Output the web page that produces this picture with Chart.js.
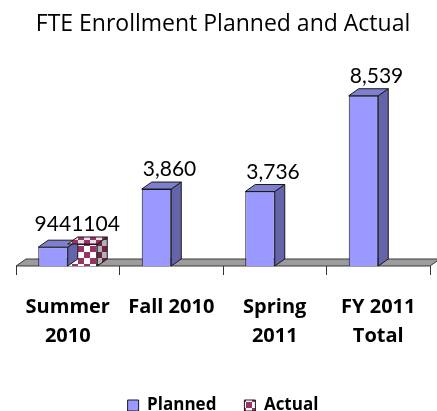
<!DOCTYPE html>
<html>
<head>
<meta charset="utf-8">
<script src="https://cdn.jsdelivr.net/npm/chart.js@4"></script>
<style>
  html, body { margin: 0; padding: 0; background: #fff; }
  #wrap { width: 437px; height: 411px; }
</style>
</head>
<body>
<div id="wrap"><canvas id="chartFte" width="437" height="411"></canvas></div>
<script>
// Données
const categories = [['Summer', '2010'], 'Fall 2010', ['Spring', '2011'], ['FY 2011', 'Total']];
const plannedValues = [944, 3860, 3736, 8539];
const actualValues = [1104, null, null, null];
const plannedLabels = ['944', '3,860', '3,736', '8,539'];
const actualLabels = ['1104', null, null, null];

const FONT = '"Open Sans", sans-serif';
const LABEL_FONT = 'Lato, "Open Sans", sans-serif';
const DX = 10, DY = 7; // profondeur 3D

const canvas = document.getElementById('chartFte');
const ctx = canvas.getContext('2d');

// motif damier pour "Actual"
function damier(c1, c2, size) {
    const p = document.createElement('canvas');
    p.width = p.height = size * 2;
    const g = p.getContext('2d');
    g.fillStyle = c2;
    g.fillRect(0, 0, size * 2, size * 2);
    g.fillStyle = c1;
    g.fillRect(0, 0, size, size);
    g.fillRect(size, size, size, size);
    return ctx.createPattern(p, 'repeat');
}

const faces = [
    { side: '#6464aa', top: '#7f7fcf' },
    { side: damier('#6b2447', '#b8b0b4', 6), top: damier('#993366', '#e8dde2', 6) }
];

const bar3d = {
    id: 'bar3d',
    beforeDatasetsDraw(chart) {
        const c = chart.ctx, a = chart.chartArea;
        c.save();
        c.beginPath();
        c.moveTo(a.left, a.bottom);
        c.lineTo(a.left + DX, a.bottom - DY);
        c.lineTo(a.right + DX, a.bottom - DY);
        c.lineTo(a.right, a.bottom);
        c.closePath();
        c.fillStyle = '#9c9c9c';
        c.fill();
        c.strokeStyle = '#3a3a3a';
        c.lineWidth = 1;
        c.stroke();
        c.restore();
    },
    afterDatasetsDraw(chart) {
        const c = chart.ctx;
        c.save();
        c.strokeStyle = '#1a1a1a';
        c.lineWidth = 1;
        chart.data.datasets.forEach((ds, i) => {
            const meta = chart.getDatasetMeta(i);
            meta.data.forEach((bar, j) => {
                if (ds.data[j] == null) return;
                const { x, y, base, width } = bar.getProps(['x', 'y', 'base', 'width'], true);
                const l = x - width / 2, r = x + width / 2;
                // face latérale
                c.beginPath();
                c.moveTo(r, y);
                c.lineTo(r + DX, y - DY);
                c.lineTo(r + DX, base - DY);
                c.lineTo(r, base);
                c.closePath();
                c.fillStyle = faces[i].side;
                c.fill();
                c.stroke();
                // dessus
                c.beginPath();
                c.moveTo(l, y);
                c.lineTo(l + DX, y - DY);
                c.lineTo(r + DX, y - DY);
                c.lineTo(r, y);
                c.closePath();
                c.fillStyle = faces[i].top;
                c.fill();
                c.stroke();
            });
        });
        c.restore();
    },
    afterDraw(chart) {
        const c = chart.ctx;
        c.save();
        c.font = '21px ' + LABEL_FONT;
        c.fillStyle = '#000';
        c.textBaseline = 'alphabetic';
        const labelSets = [plannedLabels, actualLabels];
        // étiquettes par catégorie, décalées pour éviter le chevauchement
        categories.forEach((cat, j) => {
            const items = [];
            chart.data.datasets.forEach((ds, i) => {
                const txt = labelSets[i][j];
                if (ds.data[j] == null || txt == null) return;
                const bar = chart.getDatasetMeta(i).data[j];
                const w = c.measureText(txt).width;
                const cx = bar.x + 13;
                items.push({ txt, left: cx - w / 2, w, y: bar.y - 13 });
            });
            items.sort((a, b) => a.left - b.left);
            for (let k = items.length - 2; k >= 0; k--) {
                const over = items[k].left + items[k].w - items[k + 1].left;
                if (over > 0) items[k].left -= over;
            }
            const yMin = Math.min(...items.map(it => it.y));
            items.forEach(it => c.fillText(it.txt, it.left, items.length > 1 ? yMin : it.y));
        });
        c.restore();
    }
};

new Chart(canvas, {
    type: 'bar',
    data: {
        labels: categories,
        datasets: [{
            label: 'Planned',
            data: plannedValues,
            backgroundColor: '#9999ff',
            borderColor: '#1a1a1a',
            borderWidth: 1,
            barPercentage: 1,
            categoryPercentage: 0.57
        }, {
            label: 'Actual',
            data: actualValues,
            backgroundColor: damier('#993366', '#ffffff', 6),
            borderColor: '#1a1a1a',
            borderWidth: 1,
            barPercentage: 1,
            categoryPercentage: 0.57
        }]
    },
    options: {
        responsive: false,
        animation: false,
        devicePixelRatio: 1,
        layout: { padding: { left: 16, right: 7, top: 0, bottom: -13 } },
        plugins: {
            title: {
                display: true,
                text: 'FTE Enrollment Planned and Actual',
                color: '#000',
                font: { family: FONT, size: 23, weight: 'normal', lineHeight: 1.2 },
                padding: { top: 11, bottom: 28 }
            },
            legend: {
                display: true,
                position: 'bottom',
                labels: {
                    color: '#000',
                    boxWidth: 11,
                    boxHeight: 11,
                    padding: 28,
                    font: { family: FONT, size: 17, weight: 'bold' }
                }
            },
            tooltip: { enabled: false }
        },
        scales: {
            x: {
                grid: {
                    offset: true,
                    drawOnChartArea: false,
                    tickLength: 9,
                    color: '#333'
                },
                border: { display: false },
                ticks: {
                    color: '#000',
                    padding: 18,
                    maxRotation: 0,
                    font: { family: FONT, size: 20, weight: 'bold', lineHeight: 1.45 }
                }
            },
            y: {
                display: false,
                min: 0,
                max: 10000
            }
        }
    },
    plugins: [bar3d]
});
</script>
</body>
</html>
